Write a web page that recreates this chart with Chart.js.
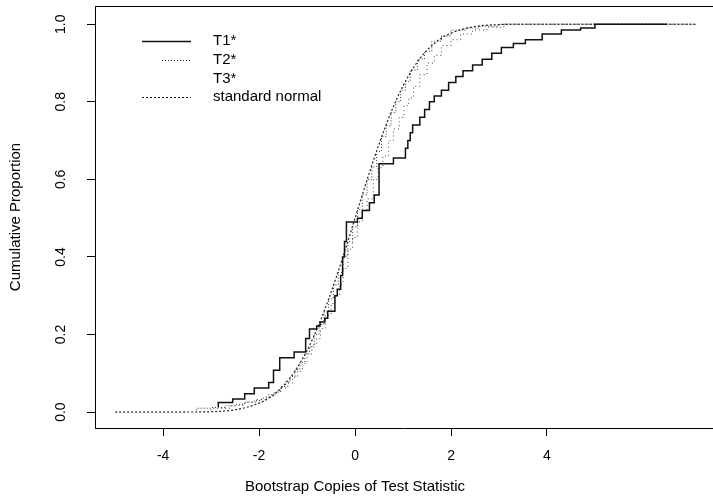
<!DOCTYPE html>
<html><head><meta charset="utf-8">
<script src="https://cdn.jsdelivr.net/npm/chart.js@4/dist/chart.umd.min.js"></script>
<style>html,body{margin:0;padding:0;background:#fff;}</style>
</head><body>
<canvas id="c" width="713" height="499"></canvas>
<script>
// ---- data ----
const xTicks = [-4, -2, 0, 2, 4];
const yTicks = [0, 0.2, 0.4, 0.6, 0.8, 1.0];
const seriesNames = ['T1*', 'T2*', 'T3*', 'standard normal'];
const xTitle = 'Bootstrap Copies of Test Statistic';
const yTitle = 'Cumulative Proportion';

const t1X = [-2.85,-2.55,-2.3,-2.1,-1.8,-1.7,-1.57,-1.27,-1.03,-0.95,-0.8,-0.73,-0.63,-0.57,-0.42,-0.37,-0.3,-0.26,-0.22,-0.18,0.05,0.15,0.3,0.4,0.5,0.8,1.05,1.1,1.15,1.2,1.35,1.45,1.55,1.65,1.8,1.95,2.1,2.25,2.45,2.65,2.85,3.05,3.3,3.55,3.9,4.3,4.7,5.0,5.4,6.5];
const t1Y = [0.013,0.025,0.034,0.047,0.062,0.076,0.108,0.14,0.155,0.19,0.214,0.222,0.232,0.242,0.26,0.30,0.317,0.352,0.40,0.44,0.49,0.50,0.52,0.54,0.56,0.64,0.655,0.68,0.70,0.72,0.74,0.76,0.78,0.80,0.815,0.83,0.85,0.865,0.88,0.895,0.91,0.925,0.94,0.95,0.96,0.975,0.985,0.99,1.0,1.0];

const t2X = [-3.3,-3.0,-2.7,-2.5,-2.3,-2.1,-1.95,-1.8,-1.65,-1.55,-1.45,-1.35,-1.25,-1.15,-1.05,-0.95,-0.85,-0.75,-0.65,-0.55,-0.45,-0.35,-0.25,-0.15,-0.05,0.05,0.15,0.25,0.35,0.45,0.55,0.65,0.75,0.85,0.95,1.05,1.15,1.3,1.45,1.6,1.8,2.0,2.3,2.6,3.0,3.6,7.1];
const t2Y = [0.005,0.01,0.012,0.016,0.02,0.026,0.03,0.036,0.045,0.054,0.066,0.078,0.092,0.11,0.128,0.15,0.168,0.2,0.226,0.258,0.292,0.328,0.36,0.402,0.44,0.478,0.522,0.56,0.6,0.632,0.672,0.71,0.738,0.772,0.8,0.83,0.852,0.882,0.91,0.93,0.956,0.97,0.985,0.99,0.995,1.0,1.0];

const t3X = [-3.0,-2.6,-2.3,-2.05,-1.85,-1.7,-1.55,-1.4,-1.3,-1.2,-1.1,-1.0,-0.9,-0.8,-0.72,-0.62,-0.5,-0.42,-0.32,-0.25,-0.15,-0.05,0.05,0.15,0.25,0.38,0.48,0.58,0.7,0.8,0.92,1.02,1.12,1.22,1.35,1.5,1.65,1.8,2.0,2.2,2.45,2.75,3.1,3.6,7.1];
const t3Y = [0.005,0.01,0.017,0.025,0.032,0.04,0.05,0.062,0.075,0.09,0.105,0.125,0.15,0.175,0.19,0.215,0.25,0.28,0.30,0.33,0.37,0.42,0.45,0.49,0.52,0.55,0.60,0.63,0.66,0.70,0.73,0.76,0.79,0.81,0.84,0.87,0.90,0.92,0.945,0.96,0.975,0.985,0.992,1.0,1.0];

const normX = [-5,-4,-3.5,-3,-2.5,-2,-1.75,-1.5,-1.25,-1,-0.75,-0.5,-0.25,0,0.25,0.5,0.75,1,1.25,1.5,1.75,2,2.5,3,3.5,4,5,7.1];
const normY = [0,0,0.0002,0.001,0.006,0.023,0.04,0.067,0.106,0.159,0.227,0.309,0.401,0.5,0.599,0.691,0.773,0.841,0.894,0.933,0.96,0.977,0.994,0.999,1,1,1,1];

function pts(xs, ys) { return xs.map((x, i) => ({ x: x, y: ys[i] })); }

const FONT = 'Liberation Sans, Arial, Helvetica, sans-serif';

const framePlugin = {
  id: 'frame',
  afterDraw(chart) {
    const { ctx, chartArea: a, scales } = chart;
    ctx.save();
    ctx.strokeStyle = '#000';
    ctx.lineWidth = 1;
    ctx.beginPath();
    ctx.moveTo(a.left, a.top + 0.5);
    ctx.lineTo(a.right, a.top + 0.5);
    ctx.stroke();
    // x-axis title, centred under the zero tick as in the original figure
    ctx.fillStyle = '#000';
    ctx.font = '15px ' + FONT;
    ctx.textAlign = 'center';
    ctx.textBaseline = 'middle';
    ctx.fillText(xTitle, scales.x.getPixelForValue(0), 487);
    ctx.restore();
  }
};

const legendPlugin = {
  id: 'rlegend',
  afterDatasetsDraw(chart) {
    const ctx = chart.ctx;
    const rows = [
      { y: 41, x0: 142, x1: 191, dash: [], w: 1.4 },
      { y: 60, x0: 162, x1: 191, dash: [1, 2], w: 1 },
      { y: 79, x0: 0, x1: 0, dash: [], w: 0 },
      { y: 97, x0: 142, x1: 191, dash: [2, 2], w: 1 }
    ];
    ctx.save();
    rows.forEach((r, i) => {
      if (r.w > 0) {
        ctx.beginPath();
        ctx.setLineDash(r.dash);
        ctx.lineWidth = r.w;
        ctx.strokeStyle = '#111';
        ctx.moveTo(r.x0, r.y + 0.5);
        ctx.lineTo(r.x1, r.y + 0.5);
        ctx.stroke();
      }
      ctx.setLineDash([]);
      ctx.fillStyle = '#000';
      ctx.font = '15px ' + FONT;
      ctx.textBaseline = 'middle';
      ctx.textAlign = 'left';
      ctx.fillText(seriesNames[i], 213, r.y);
    });
    ctx.restore();
  }
};

new Chart(document.getElementById('c'), {
  type: 'line',
  data: {
    datasets: [
      { label: seriesNames[0], data: pts(t1X, t1Y), stepped: 'after', borderColor: '#111', borderWidth: 1.5, pointRadius: 0, fill: false },
      { label: seriesNames[1], data: pts(t2X, t2Y), stepped: 'after', borderColor: '#333', borderWidth: 1, borderDash: [1, 2], pointRadius: 0, fill: false },
      { label: seriesNames[2], data: pts(t3X, t3Y), stepped: 'after', borderColor: '#444', borderWidth: 1, borderDash: [1, 3], pointRadius: 0, fill: false },
      { label: seriesNames[3], data: pts(normX, normY), borderColor: '#222', borderWidth: 1.2, borderDash: [2, 2], cubicInterpolationMode: 'monotone', pointRadius: 0, fill: false }
    ]
  },
  options: {
    responsive: false,
    animation: false,
    devicePixelRatio: 1,
    layout: { padding: { left: 0, right: 0, top: 6, bottom: 0 } },
    plugins: { legend: { display: false }, tooltip: { enabled: false } },
    scales: {
      x: {
        type: 'linear', min: -5.42, max: 7.46,
        afterBuildTicks: s => { s.ticks = xTicks.map(v => ({ value: v })); },
        afterFit: s => { s.height = 71; s.paddingLeft = 0; s.paddingRight = 0; },
        grid: { drawOnChartArea: false, drawTicks: true, tickLength: 8, color: '#000', lineWidth: 1 },
        border: { display: true, color: '#000', width: 1 },
        ticks: { color: '#000', font: { family: FONT, size: 14 }, padding: 12, maxRotation: 0, minRotation: 0, callback: v => String(v) },
        title: { display: false }
      },
      y: {
        type: 'linear', min: -0.041, max: 1.047,
        afterBuildTicks: s => { s.ticks = yTicks.map(v => ({ value: v })); },
        afterFit: s => { s.width = 95; s.paddingTop = 0; s.paddingBottom = 0; },
        grid: { drawOnChartArea: false, drawTicks: true, tickLength: 8, color: '#000', lineWidth: 1 },
        border: { display: true, color: '#000', width: 1 },
        ticks: { color: '#000', font: { family: FONT, size: 14 }, padding: 16, minRotation: 90, maxRotation: 90, crossAlign: 'center', callback: v => Number(v).toFixed(1) },
        title: { display: true, text: yTitle, color: '#000', font: { family: FONT, size: 15 }, padding: { top: 7, bottom: 0 } }
      }
    }
  },
  plugins: [framePlugin, legendPlugin]
});
</script>
</body></html>
